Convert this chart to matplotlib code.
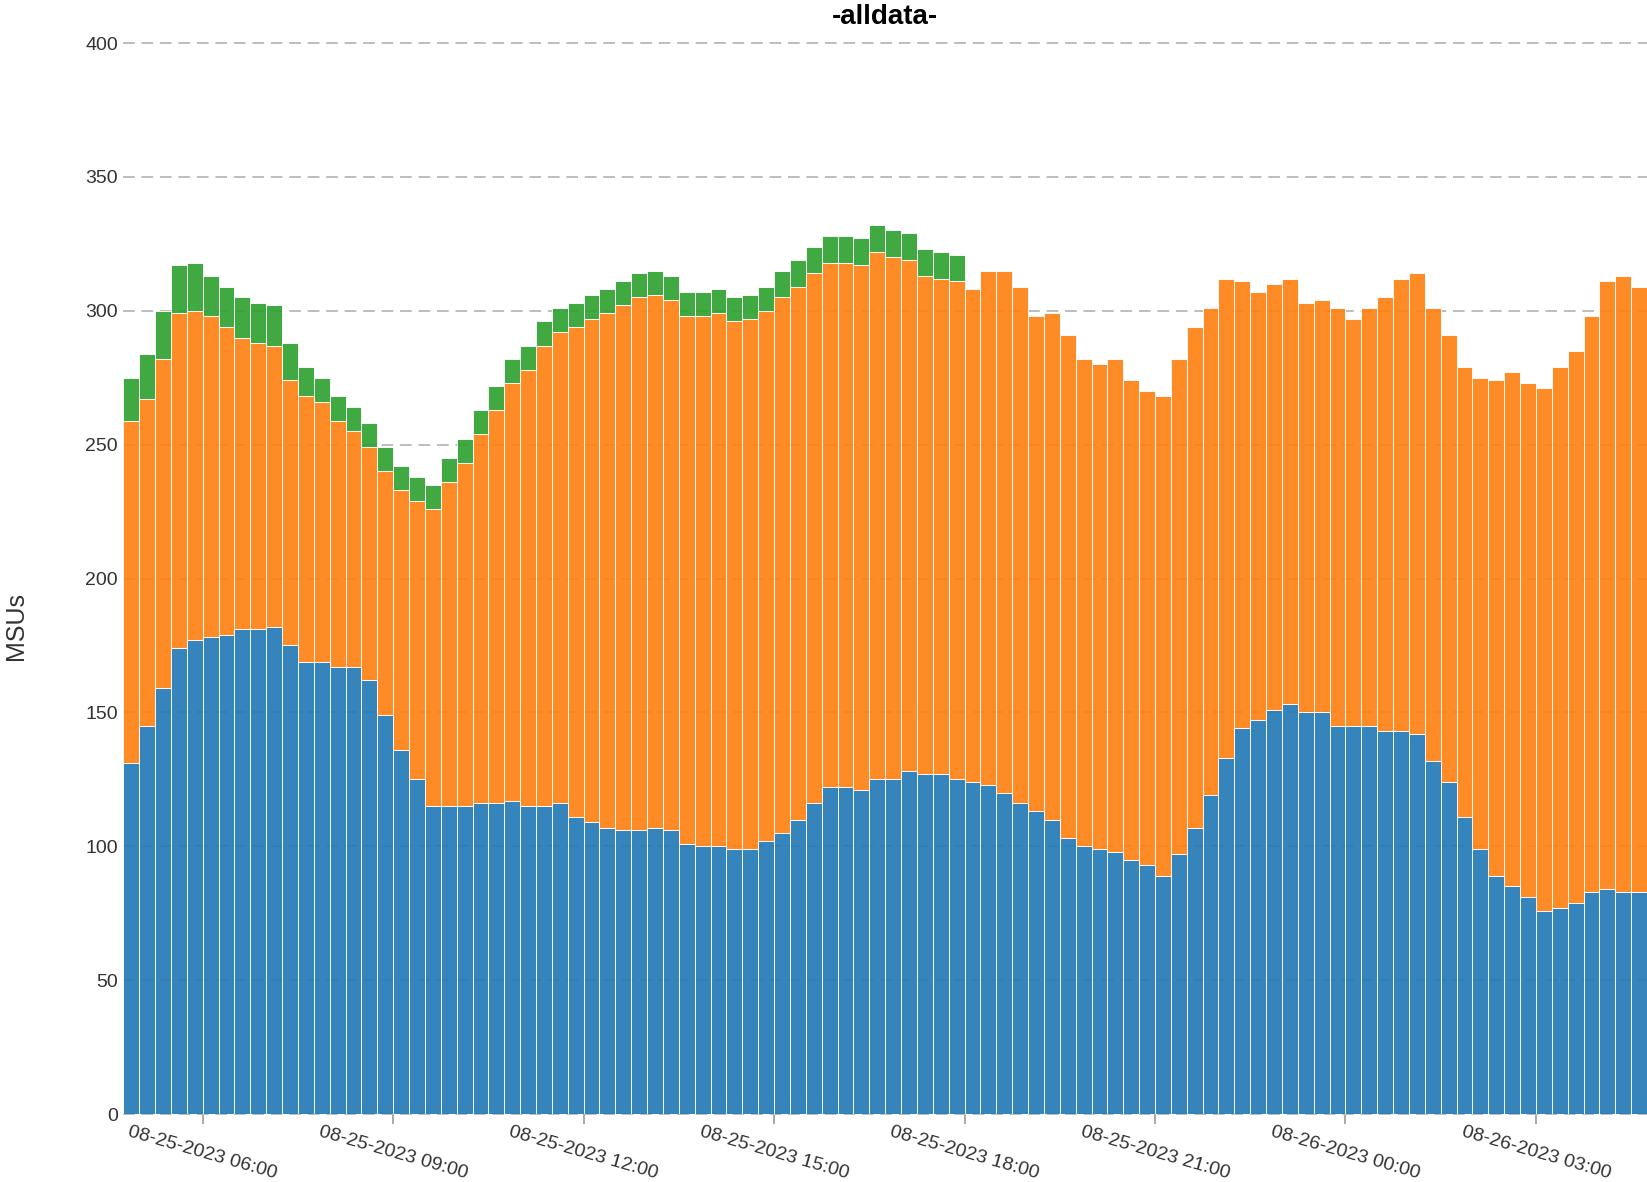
import matplotlib.pyplot as plt
import matplotlib.dates as mdates
import pandas as pd

plt.rcParams['font.family'] = ['Liberation Sans', 'DejaVu Sans']

# 15 minute intervals starting 08-25-2023 04:45
start = '2023-08-25 04:45'

blue = [131, 145, 159, 174, 177, 178, 179, 181, 181, 182,
        175, 169, 169, 167, 167, 162, 149, 136, 125, 115,
        115, 115, 116, 116, 117, 115, 115, 116, 111, 109,
        107, 106, 106, 107, 106, 101, 100, 100, 99, 99,
        102, 105, 110, 116, 122, 122, 121, 125, 125, 128,
        127, 127, 125, 124, 123, 120, 116, 113, 110, 103,
        100, 99, 98, 95, 93, 89, 97, 107, 119, 133,
        144, 147, 151, 153, 150, 150, 145, 145, 145, 143,
        143, 142, 132, 124, 111, 99, 89, 85, 81, 76,
        77, 79, 83, 84, 83, 83]

orange = [128, 122, 123, 125, 123, 120, 115, 109, 107, 105,
          99, 99, 97, 92, 88, 87, 91, 97, 104, 111,
          121, 128, 138, 147, 156, 163, 172, 176, 183, 188,
          192, 196, 199, 199, 198, 197, 198, 199, 197, 198,
          198, 200, 199, 198, 196, 196, 196, 197, 195, 191,
          186, 185, 186, 184, 192, 195, 193, 185, 189, 188,
          182, 181, 184, 179, 177, 179, 185, 187, 182, 179,
          167, 160, 159, 159, 153, 154, 156, 152, 156, 162,
          169, 172, 169, 167, 168, 176, 185, 192, 192, 195,
          202, 206, 215, 227, 230, 226]

# green only reported for the first part of the day
green = [16, 17, 18, 18, 18, 15, 15, 15, 15, 15,
         14, 11, 9, 9, 9, 9, 9, 9, 9, 9,
         9, 9, 9, 9, 9, 9, 9, 9, 9, 9,
         9, 9, 9, 9, 9, 9, 9, 9, 9, 9,
         9, 10, 10, 10, 10, 10, 10, 10, 10, 10,
         10, 10, 10]

times = pd.date_range(start, periods=len(blue), freq='15min')
step = pd.Timedelta('15min')
width = 15 / (24 * 60)

fig = plt.figure(figsize=(16.47, 11.82), dpi=100)
ax = fig.add_axes([0.0749, 0.0575, 0.9251, 0.9061])

edge = (1, 1, 1, 0.16)
ax.bar(times, blue, width=width, align='edge', color='#1f77b4', alpha=0.9,
       edgecolor=edge, linewidth=0.7, zorder=2)
ax.bar(times, orange, width=width, align='edge', bottom=blue, color='#ff7f0e',
       alpha=0.9, edgecolor=edge, linewidth=0.7, zorder=2)
g_bottom = [b + o for b, o in zip(blue[:len(green)], orange[:len(green)])]
ax.bar(times[:len(green)], green, width=width, align='edge', bottom=g_bottom,
       color='#2ca02c', alpha=0.9, edgecolor=edge, linewidth=0.7, zorder=2)

ax.set_xlim(times[0], times[-1] + step)
ax.set_ylim(0, 400)
ax.set_yticks(range(0, 401, 50))

ax.yaxis.grid(True, color='#bdbdbd', linewidth=1.4, linestyle=(0, (6, 3.5)))
ax.set_axisbelow(True)
for gl in ax.get_ygridlines():
    gl.set_clip_on(False)

ax.xaxis.set_major_locator(mdates.HourLocator(byhour=range(0, 24, 3)))
ax.xaxis.set_major_formatter(mdates.DateFormatter('%m-%d-%Y %H:%M'))

for s in ax.spines.values():
    s.set_visible(False)

ax.tick_params(axis='y', length=0, pad=4, labelsize=14, labelcolor='#333333')
ax.tick_params(axis='x', length=7, width=1.2, color='#999999', pad=0,
               labelsize=14, labelcolor='#333333')
for lbl in ax.get_xticklabels():
    lbl.set_rotation(-16)
    lbl.set_ha('center')
    lbl.set_va('top')

fig.text(885 / 1647, 1 - 17 / 1182, '-alldata-', ha='center', va='center',
         fontsize=20, fontweight='bold', color='#000000')
fig.text(16 / 1647, 1 - 626 / 1182, 'MSUs', ha='center', va='center',
         rotation=90, fontsize=18, color='#333333')

fig.savefig('out.png', dpi=100)
plt.close(fig)
